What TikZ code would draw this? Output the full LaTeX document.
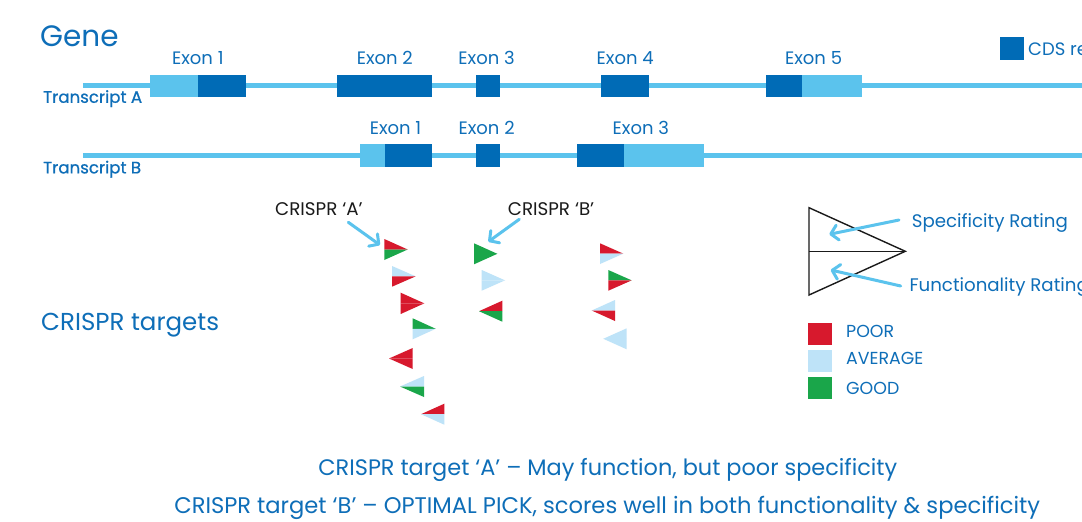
\documentclass[tikz,border=0pt]{standalone}
\usepackage{fontspec}
\setmainfont{Poppins}
\newfontfamily\trfont{Poppins}[FakeBold=0.8]
\usetikzlibrary{arrows.meta}
\definecolor{txtblue}{HTML}{0E6EB8}
\definecolor{darkblue}{HTML}{006BB6}
\definecolor{lineblue}{HTML}{5BC3ED}
\definecolor{poorc}{HTML}{D7192D}
\definecolor{avgc}{HTML}{BEE3F8}
\definecolor{goodc}{HTML}{1AA64A}
\definecolor{inkc}{HTML}{1A1A1A}
\newcommand{\fs}[1]{\fontsize{#1}{#1}\selectfont}
% flat x, tip x, top y, bottom y, top colour, bottom colour
\newcommand{\crtri}[6]{%
  \fill[#5] (#1,#3) -- (#2,{(#3+#4)/2}) -- (#1,{(#3+#4)/2}) -- cycle;
  \fill[#6] (#1,{(#3+#4)/2}) -- (#2,{(#3+#4)/2}) -- (#1,#4) -- cycle;}
\tikzset{
  txt/.style={inner sep=0pt, text=txtblue},
  exonlbl/.style={txt, anchor=base, font=\fs{18}},
  trlbl/.style={txt, anchor=base west, font=\trfont\fs{16.6}},
  crlbl/.style={inner sep=0pt, anchor=base west, text=inkc, font=\fs{18.3}},
  genline/.style={lineblue, line width=5pt},
  utr/.style={fill=lineblue},
  cds/.style={fill=darkblue},
  pointer/.style={lineblue, line width=3pt, line cap=round,
    -{Straight Barb[length=7pt,width=15pt,line cap=round,line join=round]}},
}
\begin{document}
\begin{tikzpicture}[x=1pt,y=-1pt]
\path[use as bounding box, fill=white] (0,0) rectangle (1082,522);
\clip (0,0) rectangle (1082,522);

% title
\node[txt, anchor=base west, font=\fs{29.5}] (gene) at (40,46.5) {Gene};

% transcript lines
\draw[genline] (82.8,85.6) -- (1090,85.6);
\draw[genline] (82.8,155.2) -- (1090,155.2);

% transcript A exons
\fill[utr] (150.3,74.5) rectangle (198.3,97.2);
\fill[cds] (198.3,74.5) rectangle (246.2,97.2);
\fill[cds] (336.6,74.5) rectangle (432.4,97.2);
\fill[cds] (475.5,74.5) rectangle (499.7,97.2);
\fill[cds] (600.8,74.5) rectangle (648.9,97.2);
\fill[cds] (766,74.5) rectangle (802,97.2);
\fill[utr] (802,74.5) rectangle (862.2,97.2);

% transcript B exons
\fill[utr] (360.3,143.8) rectangle (384.5,166.6);
\fill[cds] (384.5,143.8) rectangle (432.4,166.6);
\fill[cds] (475.5,143.8) rectangle (499.7,166.6);
\fill[cds] (577,143.8) rectangle (624,166.6);
\fill[utr] (624,143.8) rectangle (703.8,166.6);

% exon labels
\node[exonlbl] (a1) at (197.8,64.5) {Exon 1};
\node[exonlbl] (a2) at (384.8,64.5) {Exon 2};
\node[exonlbl] (a3) at (486.6,64.5) {Exon 3};
\node[exonlbl] (a4) at (625.2,64.5) {Exon 4};
\node[exonlbl] (a5) at (813.6,64.5) {Exon 5};
\node[exonlbl] (b1) at (395.5,134.5) {Exon 1};
\node[exonlbl] (b2) at (486.6,134.5) {Exon 2};
\node[exonlbl] (b3) at (640.8,134.5) {Exon 3};

\node[trlbl] (ta) at (43,102.8) {Transcript A};
\node[trlbl] (tb) at (43,173.4) {Transcript B};

% CDS legend
\fill[cds] (1000,37.3) rectangle (1024,59.8);
\node[txt, anchor=base west, font=\fs{18}] (cdsl) at (1028,55.3) {CDS region};

% CRISPR targets label
\node[txt, anchor=base west, font=\fs{24.5}] (ct) at (41,330.7) {CRISPR targets};

% CRISPR 'A' and 'B' labels and arrows
\node[crlbl] (cA) at (275,215) {CRISPR ‘A’};
\node[crlbl] (cB) at (507.7,215.7) {CRISPR ‘B’};
\coordinate (cAs) at (348.3,222.3);
\coordinate (cAe) at (380,245);
\coordinate (cBs) at (519.3,219.3);
\coordinate (cBe) at (488.3,241.7);
\draw[pointer] (cAs) -- (cAe);
\draw[pointer] (cBs) -- (cBe);

% triangles: CRISPR A cluster
\crtri{384.3}{407.7}{239}{260}{poorc}{goodc}
\crtri{392}{415.7}{266}{286.7}{avgc}{poorc}
\crtri{400.7}{424.3}{292.7}{314}{poorc}{poorc}
\crtri{412.7}{435.7}{318.3}{339.3}{goodc}{avgc}
\crtri{412.7}{389}{348}{369}{poorc}{poorc}
\crtri{424}{400}{376}{397}{avgc}{goodc}
\crtri{444.3}{421}{403.7}{424.7}{poorc}{avgc}
% CRISPR B cluster
\crtri{474}{497.3}{243.3}{264.3}{goodc}{goodc}
\crtri{481.7}{505}{270}{290.7}{avgc}{avgc}
\crtri{502.3}{479}{300.7}{321.7}{poorc}{goodc}
% right cluster
\crtri{600}{623.3}{243.3}{264}{poorc}{avgc}
\crtri{608.3}{631.7}{270}{290.7}{goodc}{poorc}
\crtri{615}{591.7}{300}{321}{avgc}{poorc}
\crtri{626.7}{603.3}{328.3}{349.3}{avgc}{avgc}

% rating key triangle
\coordinate (kt) at (809,207.7);
\coordinate (km) at (809,251.3);
\coordinate (kb) at (809,295);
\coordinate (kp) at (905.3,251.3);
\draw[inkc, line width=1.4pt, line join=miter] (kt) -- (kp) -- (kb) -- cycle;
\draw[inkc, line width=1.4pt] (km) -- (kp);

\node[txt, anchor=base west, font=\fs{18.2}] (spec) at (911.7,227.3) {Specificity Rating};
\node[txt, anchor=base west, font=\fs{18.2}] (func) at (909.3,291.7) {Functionality Rating};
\coordinate (sps) at (899,220);
\coordinate (spe) at (829.3,234.3);
\coordinate (fns) at (900.7,286);
\coordinate (fne) at (830.7,270);
\draw[pointer] (sps) -- (spe);
\draw[pointer] (fns) -- (fne);

% colour legend
\fill[poorc] (808,323) rectangle (832,344.7);
\fill[avgc] (808,350) rectangle (832,371.7);
\fill[goodc] (808,377) rectangle (832,399);
\node[txt, anchor=base west, font=\fs{17.4}] (lp) at (846,337.7) {POOR};
\node[txt, anchor=base west, font=\fs{17.4}] (la) at (846,364.3) {AVERAGE};
\node[txt, anchor=base west, font=\fs{17.4}] (lg) at (846,394.3) {GOOD};

% bottom captions
\node[txt, anchor=base, font=\fs{22.4}] (cap1) at (607.8,475) {CRISPR target ‘A’ – May function, but poor specificity};
\node[txt, anchor=base, font=\fs{22.6}] (cap2) at (607.2,513.3) {CRISPR target ‘B’ – OPTIMAL PICK, scores well in both functionality \& specificity};
\end{tikzpicture}
\end{document}
